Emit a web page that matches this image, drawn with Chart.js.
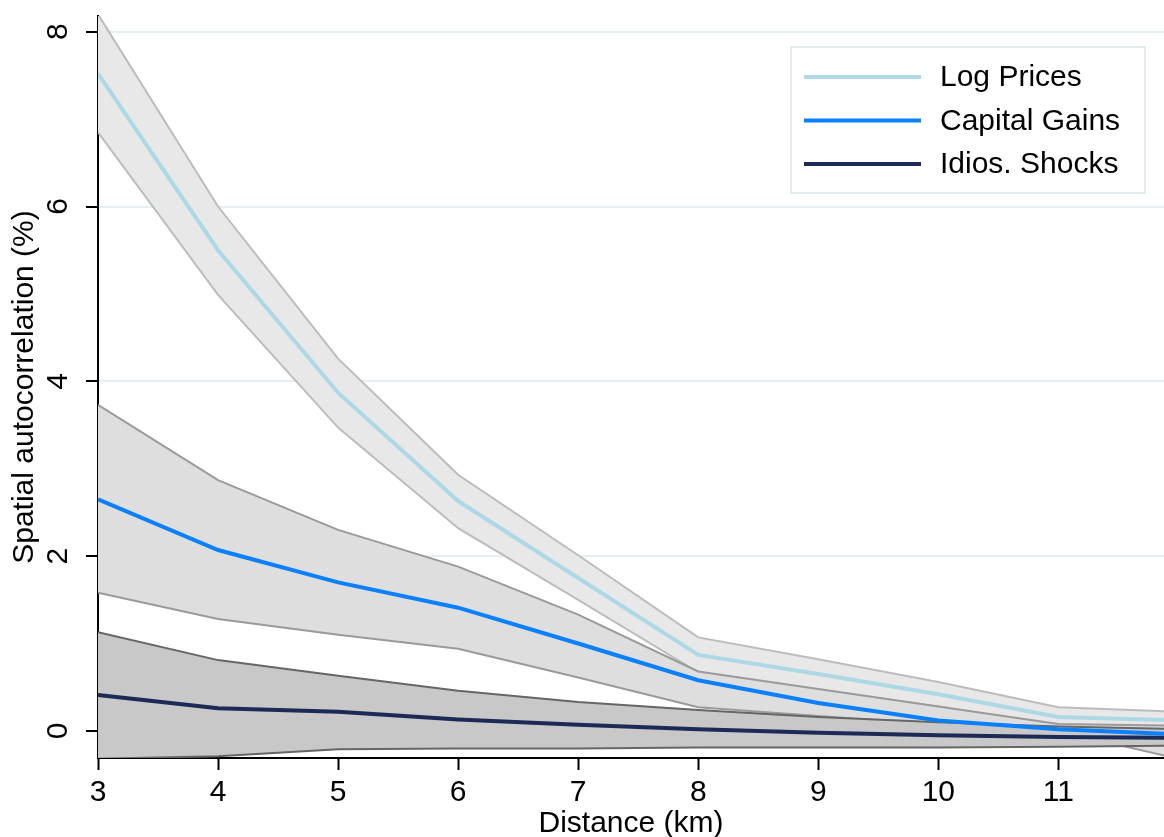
<!DOCTYPE html>
<html>
<head>
<meta charset="utf-8">
<script src="https://cdn.jsdelivr.net/npm/chart.js@4"></script>
<style>
  html, body { margin: 0; padding: 0; background: #fff; }
  #wrap { width: 1164px; height: 837px; position: relative; }
</style>
</head>
<body>
<div id="wrap"><canvas id="acfChart"></canvas></div>
<script>
// distance bands (km)
const distances = [3, 4, 5, 6, 7, 8, 9, 10, 11, 12];

// point estimates, spatial autocorrelation (%)
const logPrices     = [7.52, 5.50, 3.87, 2.63, 1.75, 0.87, 0.65, 0.42, 0.16, 0.12];
const capitalGains  = [2.65, 2.07, 1.70, 1.41, 1.00, 0.58, 0.32, 0.12, 0.02, -0.04];
const idiosShocks   = [0.41, 0.26, 0.22, 0.13, 0.07, 0.02, -0.02, -0.05, -0.07, -0.08];

// confidence bands
const logPricesHi   = [8.20, 6.00, 4.26, 2.93, 2.01, 1.07, 0.82, 0.56, 0.27, 0.22];
const logPricesLo   = [6.85, 4.99, 3.47, 2.32, 1.50, 0.67, 0.47, 0.28, 0.05, 0.01];
const capGainsHi    = [3.73, 2.87, 2.30, 1.88, 1.33, 0.68, 0.48, 0.28, 0.08, 0.06];
const capGainsLo    = [1.58, 1.28, 1.10, 0.94, 0.61, 0.27, 0.17, 0.07, 0.00, -0.32];
const idiosHi       = [1.13, 0.81, 0.63, 0.46, 0.33, 0.24, 0.16, 0.10, 0.05, 0.02];
const idiosLo       = [-0.32, -0.29, -0.21, -0.20, -0.20, -0.19, -0.19, -0.19, -0.18, -0.17];

const xTicks = [3, 4, 5, 6, 7, 8, 9, 10, 11];
const yTicks = [0, 2, 4, 6, 8];

const seriesLabels = ['Log Prices', 'Capital Gains', 'Idios. Shocks'];
const seriesColors = ['#add8e6', '#0a80ff', '#1c2a55'];

const FONT = '"Liberation Sans", Arial, sans-serif';

function pts(arr) {
    return arr.map((v, i) => ({ x: distances[i], y: v }));
}

function line(label, arr, color) {
    return {
        label: label,
        data: pts(arr),
        borderColor: color,
        borderWidth: 4,
        pointRadius: 0,
        fill: false,
        tension: 0
    };
}

function bandEdge(arr, border, fillColor) {
    return {
        label: '_band',
        data: pts(arr),
        borderColor: border,
        borderWidth: 2,
        pointRadius: 0,
        backgroundColor: fillColor,
        fill: fillColor ? '-1' : false,
        tension: 0
    };
}

// legend drawn inside the plot, top right, with a thin frame
const boxLegend = {
    id: 'boxLegend',
    afterDraw(chart) {
        const ctx = chart.ctx;
        const x0 = 791, y0 = 47, w = 354, h = 146;
        ctx.save();
        ctx.fillStyle = '#ffffff';
        ctx.fillRect(x0, y0, w, h);
        ctx.strokeStyle = '#e4ecef';
        ctx.lineWidth = 2;
        ctx.strokeRect(x0, y0, w, h);
        ctx.font = '30px ' + FONT;
        ctx.textBaseline = 'middle';
        ctx.fillStyle = '#000';
        seriesLabels.forEach((lab, i) => {
            const yy = y0 + 30 + i * 43.5;
            ctx.strokeStyle = seriesColors[i];
            ctx.lineWidth = 4;
            ctx.beginPath();
            ctx.moveTo(804, yy);
            ctx.lineTo(921, yy);
            ctx.stroke();
            ctx.fillText(lab, 940, yy + 1);
        });
        ctx.restore();
    }
};

const ctx = document.getElementById('acfChart').getContext('2d');
const acfChart = new Chart(ctx, {
    type: 'line',
    data: {
        datasets: [
            line(seriesLabels[0], logPrices, seriesColors[0]),
            line(seriesLabels[1], capitalGains, seriesColors[1]),
            line(seriesLabels[2], idiosShocks, seriesColors[2]),
            bandEdge(idiosLo, '#666666', null),
            bandEdge(idiosHi, '#666666', '#c8c8c8'),
            bandEdge(capGainsLo, '#9a9a9a', null),
            bandEdge(capGainsHi, '#9a9a9a', '#dedede'),
            bandEdge(logPricesLo, '#bcbcbc', null),
            bandEdge(logPricesHi, '#bcbcbc', '#e8e8e8')
        ]
    },
    options: {
        responsive: true,
        maintainAspectRatio: false,
        animation: false,
        layout: { padding: { top: 16, right: 0, left: 0, bottom: 0 } },
        plugins: {
            legend: { display: false },
            tooltip: { enabled: false }
        },
        scales: {
            x: {
                type: 'linear',
                min: 3,
                max: 11.88,
                afterBuildTicks: (scale) => { scale.ticks = xTicks.map(v => ({ value: v })); },
                afterFit: (scale) => { scale.height = 79; },
                ticks: {
                    color: '#000',
                    font: { family: FONT, size: 30 },
                    padding: 5,
                    maxRotation: 0
                },
                grid: {
                    drawOnChartArea: false,
                    drawTicks: true,
                    tickLength: 12,
                    tickColor: '#000',
                    tickWidth: 2
                },
                border: { color: '#000', width: 2 },
                title: {
                    display: true,
                    text: 'Distance (km)',
                    color: '#000',
                    font: { family: FONT, size: 30, lineHeight: 1 },
                    padding: { top: 0, bottom: -2 }
                }
            },
            y: {
                min: -0.31,
                max: 8.18,
                afterBuildTicks: (scale) => { scale.ticks = yTicks.map(v => ({ value: v })); },
                afterFit: (scale) => {
                    scale.width = 98;
                    scale.paddingTop = 0;
                    scale.paddingBottom = 0;
                },
                ticks: {
                    color: '#000',
                    font: { family: FONT, size: 30 },
                    padding: 19,
                    crossAlign: 'center',
                    minRotation: 90,
                    maxRotation: 90
                },
                grid: {
                    color: '#e6eff2',
                    lineWidth: 2,
                    tickLength: 12,
                    tickColor: '#000',
                    tickWidth: 2
                },
                border: { color: '#000', width: 2 },
                title: {
                    display: true,
                    text: 'Spatial autocorrelation (%)',
                    color: '#000',
                    font: { family: FONT, size: 30, lineHeight: 1 },
                    padding: { top: 10, bottom: 0 }
                }
            }
        }
    },
    plugins: [boxLegend]
});
</script>
</body>
</html>
